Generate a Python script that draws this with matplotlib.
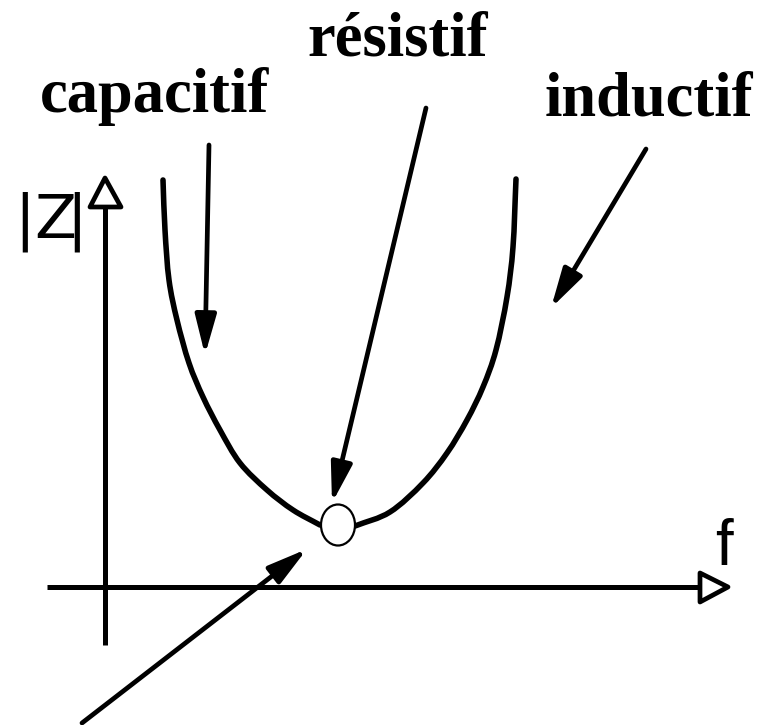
import matplotlib
matplotlib.use('Agg')
import matplotlib.pyplot as plt
from matplotlib.patches import FancyArrowPatch, Polygon, Ellipse, PathPatch
from matplotlib.path import Path
import numpy as np

plt.rcParams['mathtext.fontset'] = 'custom'
plt.rcParams['mathtext.rm'] = 'Liberation Sans'

# everything is in image pixels (x to the right, y downwards)
left_x = [163, 165, 169, 177, 189, 203, 220, 240, 267, 293, 320]
left_y = [180, 230, 280, 320, 363, 397, 430, 463, 490, 510, 525]
right_x = [355, 390, 423, 447, 467, 483, 496, 507, 513, 516]
right_y = [526, 512, 483, 453, 420, 387, 350, 297, 247, 179]

res_point = (338, 525)

# annotation arrows: (start, tip)
arrows = {
    'capacitif': ((209, 145), (205, 355)),
    'resistif': ((426, 108), (332, 503)),
    'inductif': ((646, 149), (551, 308)),
    'bottom': ((82, 723), (307, 549)),
}

labels = ['capacitif', 'résistif', 'inductif']
label_pos = [(40, 112), (307, 55), (545, 115)]

y_axis = ((105, 645), (105, 206))
x_axis = ((47, 587), (700, 587))
y_head = [(90, 207), (121, 207), (105, 178)]
x_head = [(700, 573), (700, 602), (728, 587)]


def smooth_path(xs, ys):
    # catmull-rom through the read points, drawn as cubic bezier segments
    pts = np.column_stack([xs, ys]).astype(float)
    ext = np.vstack([2 * pts[0] - pts[1], pts, 2 * pts[-1] - pts[-2]])
    verts = [pts[0]]
    codes = [Path.MOVETO]
    for i in range(1, len(ext) - 2):
        p0, p1, p2, p3 = ext[i - 1], ext[i], ext[i + 1], ext[i + 2]
        verts += [p1 + (p2 - p0) / 6, p2 - (p3 - p1) / 6, p2]
        codes += [Path.CURVE4] * 3
    return Path(verts, codes)


fig = plt.figure(figsize=(7.67, 7.25), dpi=100)
ax = fig.add_axes([0, 0, 1, 1])
ax.set_xlim(0, 767)
ax.set_ylim(725, 0)
ax.axis('off')

# axes of the sketch
for (x0, y0), (x1, y1) in [y_axis, x_axis]:
    ax.plot([x0, x1], [y0, y1], color='k', lw=3.6, solid_capstyle='butt')
for head in [y_head, x_head]:
    ax.add_patch(Polygon(head, closed=True, facecolor='white', edgecolor='k',
                         lw=3.4, joinstyle='round', zorder=3))

# impedance curve
for xs, ys in [(left_x, left_y), (right_x, right_y)]:
    ax.add_patch(PathPatch(smooth_path(xs, ys), facecolor='none', edgecolor='k',
                           lw=4.0, capstyle='round'))
ax.add_patch(Ellipse(res_point, 34, 41, facecolor='white', edgecolor='k',
                     lw=1.6, zorder=4))

for name, (start, tip) in arrows.items():
    arr = FancyArrowPatch(start, tip, arrowstyle='-|>,head_length=1.2,head_width=0.32',
                          mutation_scale=20, color='k', lw=3.4,
                          shrinkA=0, shrinkB=0, zorder=5)
    ax.add_patch(arr)

for text, (x, y) in zip(labels, label_pos):
    ax.text(x, y, text, family='Liberation Serif', weight='bold', fontsize=45,
            ha='left', va='baseline')

ax.text(715, 565, 'f', family='Liberation Sans', fontsize=46, ha='left', va='baseline')

# |Z| label
ax.text(14, 237, r'$\mathregular{|Z\!|}$', fontsize=44, ha='left', va='baseline')

fig.savefig('out.png', dpi=100)
